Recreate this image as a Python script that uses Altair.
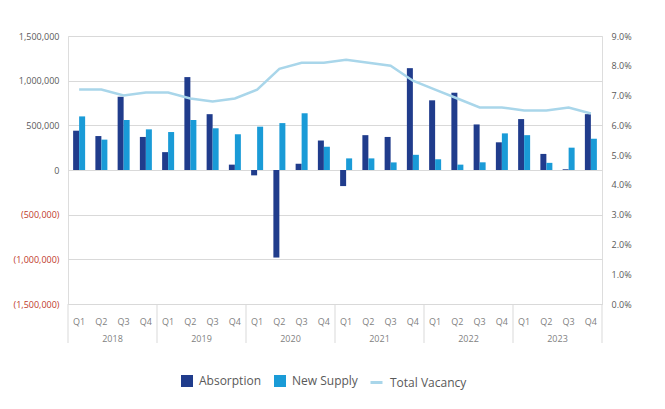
import altair as alt
import pandas as pd

years = ["2018", "2019", "2020", "2021", "2022", "2023"]
quarters = ["Q1", "Q2", "Q3", "Q4"]
absorption = [440000, 380000, 820000, 370000,
              200000, 1040000, 625000, 60000,
              -60000, -980000, 70000, 330000,
              -180000, 390000, 370000, 1140000,
              780000, 865000, 510000, 310000,
              570000, 180000, 8000, 625000]
new_supply = [600000, 340000, 560000, 455000,
              425000, 560000, 467000, 400000,
              485000, 525000, 635000, 260000,
              130000, 130000, 85000, 170000,
              120000, 60000, 86000, 410000,
              390000, 80000, 250000, 350000]
vacancy = [7.2, 7.2, 7.0, 7.1,
           7.1, 6.9, 6.8, 6.9,
           7.2, 7.9, 8.1, 8.1,
           8.2, 8.1, 8.0, 7.5,
           7.2, 6.9, 6.6, 6.6,
           6.5, 6.5, 6.6, 6.4]

series_names = ["Absorption", "New Supply"]
bar_colors = ["#203C8C", "#1A9BD7"]
line_color = "#A9D6EA"

keys = [f"{y} {q}" for y in years for q in quarters]

bar_rows = []
for i, k in enumerate(keys):
    bar_rows.append({"key": k, "series": "Absorption", "value": absorption[i]})
    bar_rows.append({"key": k, "series": "New Supply", "value": new_supply[i]})
bar_df = pd.DataFrame(bar_rows)
line_df = pd.DataFrame({"key": keys, "vac": [v / 100 for v in vacancy],
                        "s": ["Total Vacancy"] * len(keys)})
year_df = pd.DataFrame({"key": [f"{y} Q2" for y in years], "year": years})
sep_df = pd.DataFrame({"key": [f"{y} Q1" for y in years]})
end_df = pd.DataFrame({"key": [keys[-1]]})

W, H = 534, 268
FONT = "Open Sans"

xscale = alt.Scale(domain=keys, paddingInner=0, paddingOuter=0)
xaxis = alt.Axis(title=None, labelExpr="slice(datum.label, 5)", labelAngle=0,
                 ticks=False, grid=False, domainColor="#d9d9d9",
                 labelColor="#7f7f7f", labelFontSize=9, labelPadding=13,
                 labelFont=FONT)

bars = alt.Chart(bar_df).mark_bar().encode(
    x=alt.X("key:N", scale=xscale, axis=xaxis, sort=keys),
    xOffset=alt.XOffset("series:N", sort=series_names,
                        scale=alt.Scale(domain=series_names, paddingInner=0, paddingOuter=0.854)),
    y=alt.Y("value:Q", title=None,
            scale=alt.Scale(domain=[-1500000, 1500000], nice=False),
            axis=alt.Axis(values=[-1500000, -1000000, -500000, 0, 500000, 1000000, 1500000],
                          labelExpr="datum.value < 0 ? '(' + format(-datum.value, ',') + ')' : format(datum.value, ',')",
                          labelColor={"condition": {"test": "datum.value < 0", "value": "#C0392B"},
                                      "value": "#595959"},
                          labelFontSize=9, labelFont=FONT, labelPadding=9,
                          ticks=False, domain=False, grid=True, gridColor="#d9d9d9")),
    color=alt.Color("series:N", sort=series_names,
                    scale=alt.Scale(domain=series_names, range=bar_colors),
                    legend=alt.Legend(title=None, orient="none", direction="horizontal",
                                      legendX=113, legendY=339, symbolType="square",
                                      symbolSize=144, labelFontSize=12, labelFont=FONT,
                                      labelColor="#595959", columnPadding=13, labelOffset=6,
                                      symbolStrokeWidth=0)),
)

line = alt.Chart(line_df).mark_line(strokeWidth=2.5).encode(
    x=alt.X("key:N", scale=xscale, axis=xaxis, sort=keys),
    y=alt.Y("vac:Q", title=None, scale=alt.Scale(domain=[0, 0.09], nice=False),
            axis=alt.Axis(orient="right", format=".1%",
                          values=[0, 0.01, 0.02, 0.03, 0.04, 0.05, 0.06, 0.07, 0.08, 0.09],
                          labelColor="#595959", labelFontSize=9, labelFont=FONT,
                          labelPadding=9, ticks=False, domain=False, grid=False)),
    color=alt.Color("s:N", scale=alt.Scale(domain=["Total Vacancy"], range=[line_color]),
                    legend=alt.Legend(title=None, orient="none", legendX=301, legendY=339,
                                      symbolType="stroke", symbolSize=144, symbolStrokeWidth=3,
                                      labelFontSize=12, labelFont=FONT, labelColor="#595959",
                                      labelOffset=6)),
)

seps = alt.Chart(sep_df).mark_rule(color="#d9d9d9", strokeWidth=1).encode(
    x=alt.X("key:N", scale=xscale, axis=xaxis, sort=keys, bandPosition=0),
    y=alt.value(H), y2=alt.value(H + 39),
)
end_sep = alt.Chart(end_df).mark_rule(color="#d9d9d9", strokeWidth=1).encode(
    x=alt.X("key:N", scale=xscale, axis=xaxis, sort=keys, bandPosition=1),
    y=alt.value(H), y2=alt.value(H + 39),
)
year_text = alt.Chart(year_df).mark_text(fontSize=9, font=FONT, color="#7f7f7f",
                                         baseline="middle", align="center").encode(
    x=alt.X("key:N", scale=xscale, axis=xaxis, sort=keys, bandPosition=1),
    y=alt.value(H + 35),
    text="year:N",
)

chart = alt.layer(bars, line, seps, end_sep, year_text).resolve_scale(
    y="independent", color="independent"
).properties(
    width=W, height=H,
    padding={"left": 5, "top": 24, "right": 5, "bottom": 5},
).configure_view(stroke=None).configure(background="white")

chart.save("out.html", embed_options={"renderer": "svg", "actions": False})
